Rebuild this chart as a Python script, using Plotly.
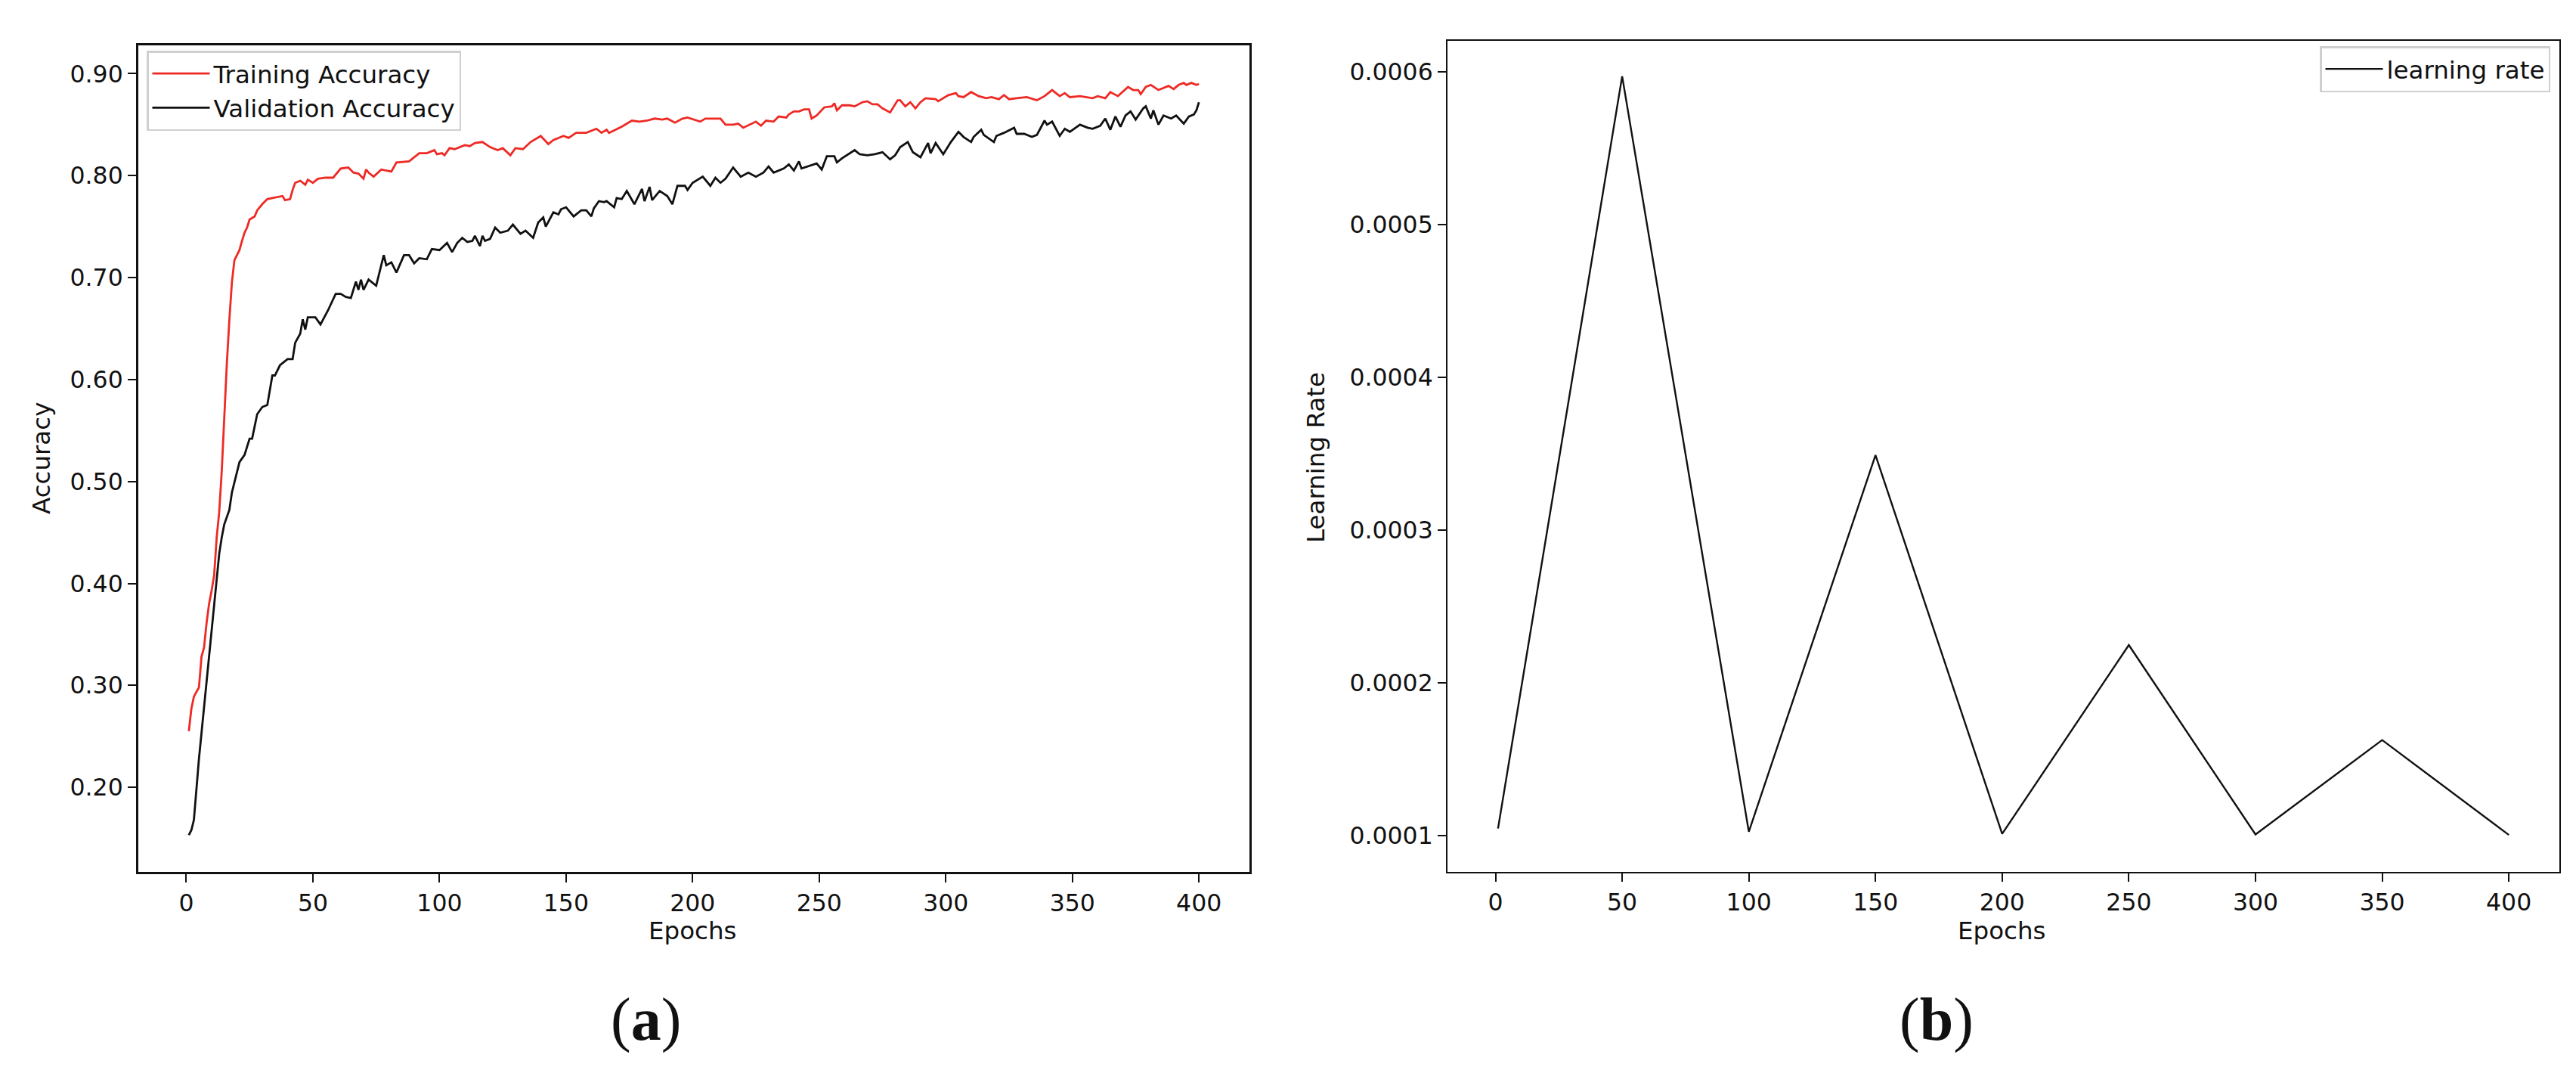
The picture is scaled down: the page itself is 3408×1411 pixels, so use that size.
import plotly.graph_objects as go

W, H = 3408, 1411

# training / validation accuracy (epoch, value)
train_epochs = [1, 2, 3, 5, 6, 7, 8, 9, 10, 11, 12, 13, 14, 15, 16, 17, 18, 19, 21, 22,
                23, 24, 25, 27, 28, 30, 32, 34, 38, 39, 41, 42, 43, 45, 47, 48, 50, 52, 55, 58,
                61, 64, 66, 68, 70, 71, 72, 74, 77, 81, 83, 88, 92, 95, 98, 99, 101, 102, 104, 106,
                108, 110, 112, 114, 117, 119, 120, 123, 125, 128, 130, 133, 136, 140, 143, 145, 149, 151, 154, 158,
                162, 164, 166, 167, 172, 176, 179, 182, 185, 188, 190, 193, 196, 198, 203, 205, 211, 213, 216, 218,
                220, 225, 227, 229, 232, 234, 237, 238, 240, 242, 244, 246, 247, 249, 252, 255, 256, 257, 259, 262,
                264, 267, 269, 271, 273, 275, 278, 281, 282, 284, 286, 288, 290, 292, 296, 297, 301, 304, 305, 307,
                310, 313, 316, 318, 321, 323, 325, 328, 332, 336, 339, 342, 345, 347, 349, 353, 358, 360, 363, 365,
                368, 372, 374, 376, 377, 379, 381, 384, 388, 390, 392, 394, 395, 397, 399, 400]
train_acc = [0.255, 0.277, 0.289, 0.298, 0.328, 0.337, 0.361, 0.380, 0.393, 0.408, 0.445, 0.470, 0.510, 0.565, 0.615, 0.658, 0.695, 0.717, 0.727, 0.736,
             0.744, 0.749, 0.757, 0.760, 0.766, 0.772, 0.777, 0.778, 0.780, 0.776, 0.777, 0.786, 0.793, 0.795, 0.791, 0.796, 0.793, 0.797, 0.798, 0.798,
             0.807, 0.808, 0.803, 0.802, 0.797, 0.806, 0.803, 0.799, 0.806, 0.804, 0.813, 0.814, 0.822, 0.822, 0.825, 0.821, 0.822, 0.820, 0.827, 0.826,
             0.828, 0.830, 0.829, 0.832, 0.833, 0.830, 0.828, 0.825, 0.827, 0.820, 0.827, 0.826, 0.833, 0.839, 0.831, 0.835, 0.839, 0.837, 0.842, 0.842,
             0.846, 0.842, 0.845, 0.842, 0.848, 0.854, 0.853, 0.854, 0.856, 0.855, 0.856, 0.852, 0.856, 0.857, 0.853, 0.856, 0.856, 0.850, 0.850, 0.851,
             0.847, 0.853, 0.849, 0.854, 0.853, 0.858, 0.857, 0.860, 0.863, 0.863, 0.865, 0.865, 0.856, 0.859, 0.867, 0.868, 0.871, 0.864, 0.869, 0.869,
             0.868, 0.872, 0.873, 0.870, 0.870, 0.866, 0.862, 0.874, 0.874, 0.868, 0.872, 0.866, 0.872, 0.876, 0.875, 0.873, 0.879, 0.881, 0.878, 0.877,
             0.882, 0.878, 0.876, 0.877, 0.875, 0.879, 0.875, 0.876, 0.877, 0.874, 0.878, 0.884, 0.878, 0.881, 0.877, 0.878, 0.876, 0.878, 0.876, 0.882,
             0.878, 0.887, 0.884, 0.884, 0.880, 0.887, 0.889, 0.884, 0.888, 0.885, 0.889, 0.891, 0.889, 0.891, 0.889, 0.890]

val_epochs = [1, 2, 3, 4, 5, 6, 7, 8, 9, 10, 11, 12, 13, 14, 15, 16, 17, 18, 20, 21,
              23, 25, 26, 28, 30, 32, 34, 35, 37, 40, 42, 43, 45, 46, 47, 48, 51, 53, 56, 59,
              61, 63, 65, 67, 68, 69, 70, 72, 75, 78, 79, 81, 83, 86, 88, 90, 92, 95, 97, 100,
              103, 105, 107, 109, 111, 113, 114, 116, 117, 118, 120, 122, 124, 127, 129, 132, 134, 137, 139, 141,
              142, 145, 147, 148, 150, 153, 156, 158, 160, 161, 163, 165, 166, 169, 170, 172, 174, 177, 180, 181,
              183, 184, 187, 190, 192, 194, 197, 198, 200, 204, 207, 209, 211, 213, 216, 219, 222, 225, 228, 230,
              232, 236, 238, 240, 242, 243, 249, 251, 253, 256, 257, 259, 264, 266, 269, 272, 275, 278, 280, 282,
              285, 287, 290, 293, 294, 296, 299, 302, 305, 307, 310, 311, 314, 315, 319, 320, 323, 327, 328, 331,
              334, 336, 339, 340, 342, 345, 347, 349, 353, 356, 358, 361, 363, 365, 367, 369, 371, 373, 375, 378,
              379, 381, 382, 384, 386, 389, 391, 394, 396, 398, 399, 400]
val_acc = [0.153, 0.158, 0.168, 0.199, 0.228, 0.253, 0.278, 0.303, 0.328, 0.354, 0.377, 0.400, 0.429, 0.445, 0.458, 0.465, 0.472, 0.489, 0.508, 0.519,
           0.526, 0.542, 0.542, 0.566, 0.573, 0.575, 0.604, 0.604, 0.614, 0.620, 0.620, 0.636, 0.645, 0.659, 0.649, 0.661, 0.661, 0.654, 0.668, 0.684,
           0.684, 0.681, 0.680, 0.696, 0.688, 0.698, 0.688, 0.698, 0.692, 0.722, 0.712, 0.715, 0.705, 0.722, 0.722, 0.714, 0.719, 0.718, 0.728, 0.727,
           0.734, 0.725, 0.734, 0.739, 0.735, 0.736, 0.741, 0.731, 0.741, 0.736, 0.738, 0.749, 0.744, 0.746, 0.752, 0.743, 0.746, 0.739, 0.754, 0.759,
           0.750, 0.764, 0.762, 0.767, 0.769, 0.760, 0.766, 0.766, 0.760, 0.768, 0.775, 0.774, 0.775, 0.769, 0.778, 0.777, 0.785, 0.772, 0.787, 0.775,
           0.789, 0.776, 0.785, 0.780, 0.772, 0.790, 0.790, 0.786, 0.793, 0.799, 0.790, 0.798, 0.793, 0.797, 0.808, 0.799, 0.803, 0.799, 0.803, 0.809,
           0.803, 0.807, 0.811, 0.805, 0.814, 0.807, 0.812, 0.806, 0.819, 0.819, 0.813, 0.817, 0.825, 0.821, 0.820, 0.821, 0.823, 0.816, 0.820, 0.828,
           0.833, 0.823, 0.818, 0.832, 0.822, 0.832, 0.821, 0.833, 0.843, 0.838, 0.833, 0.838, 0.845, 0.840, 0.833, 0.839, 0.842, 0.847, 0.841, 0.841,
           0.838, 0.840, 0.854, 0.850, 0.853, 0.839, 0.846, 0.843, 0.850, 0.847, 0.846, 0.849, 0.856, 0.845, 0.858, 0.848, 0.859, 0.863, 0.855, 0.866,
           0.868, 0.856, 0.864, 0.850, 0.859, 0.856, 0.859, 0.851, 0.858, 0.860, 0.864, 0.872]

# cyclic learning rate, corner points
lr_epochs = [1, 50, 100, 150, 200, 250, 300, 350, 400]
lr_values = [0.0001046, 0.000597, 0.0001025, 0.000349, 0.0001011, 0.0002247, 0.0001007, 0.0001625, 0.0001004]

x_ticks = [0, 50, 100, 150, 200, 250, 300, 350, 400]
acc_ticks = [0.2, 0.3, 0.4, 0.5, 0.6, 0.7, 0.8, 0.9]
lr_ticks = [0.0001, 0.0002, 0.0003, 0.0004, 0.0005, 0.0006]
lr_tick_text = ['0.0001', '0.0002', '0.0003', '0.0004', '0.0005', '0.0006']

FONT = 'DejaVu Sans'
INK = '#111111'
RED = '#ee2a25'


def px(x):
    return x / W


def py(y):
    return 1 - y / H


fig = go.Figure()
fig.add_trace(go.Scatter(x=train_epochs, y=train_acc, mode='lines', name='Training Accuracy',
                         line=dict(color=RED, width=2.8), xaxis='x', yaxis='y', legend='legend'))
fig.add_trace(go.Scatter(x=val_epochs, y=val_acc, mode='lines', name='Validation Accuracy',
                         line=dict(color=INK, width=2.8), xaxis='x', yaxis='y', legend='legend'))
fig.add_trace(go.Scatter(x=lr_epochs, y=lr_values, mode='lines', name='learning rate',
                         line=dict(color=INK, width=2.4), xaxis='x2', yaxis='y2', legend='legend2'))

tick_font = dict(family=FONT, size=31.5, color=INK)
common = dict(showline=True, mirror=True, linecolor=INK, ticks='outside', ticklen=11,
              tickwidth=2, tickcolor=INK, showgrid=False, zeroline=False, tickfont=tick_font)
legend_style = dict(bgcolor='white', bordercolor='#cfcfcf', borderwidth=2.5, itemwidth=76,
                    font=dict(family=FONT, size=32.5, color=INK))

fig.update_layout(
    width=W, height=H,
    margin=dict(l=0, r=0, t=0, b=0),
    paper_bgcolor='white', plot_bgcolor='white',
    font=dict(family=FONT, size=32, color=INK),
    xaxis=dict(domain=[px(175), px(1645)], range=[-18.95, 419.95], tickvals=x_ticks,
               anchor='y', linewidth=3, **common),
    yaxis=dict(domain=[py(1145), py(52)], range=[0.117, 0.9278], tickvals=acc_ticks,
               tickformat='.2f', anchor='x', linewidth=3, **common),
    xaxis2=dict(domain=[px(1907), px(3378)], range=[-18.95, 419.95], tickvals=x_ticks,
                anchor='y2', linewidth=2, **common),
    yaxis2=dict(domain=[py(1145), py(46)], range=[0.0000762, 0.0006202], tickvals=lr_ticks,
                ticktext=lr_tick_text, anchor='x2', linewidth=2, **common),
    legend=dict(x=px(186), y=py(59), xanchor='left', yanchor='top', **legend_style),
    legend2=dict(x=px(3366), y=py(53), xanchor='right', yanchor='top', **legend_style),
)

title_font = dict(family=FONT, size=32.5, color=INK)
annos = [
    dict(text='Accuracy', x=px(47), y=py(598), textangle=-90),
    dict(text='Learning Rate', x=px(1733), y=py(597), textangle=-90),
    dict(text='Epochs', x=px(908), y=py(1223)),
    dict(text='Epochs', x=px(2640), y=py(1223)),
]
for a in annos:
    fig.add_annotation(xref='paper', yref='paper', showarrow=False, xanchor='center',
                       yanchor='middle', font=title_font, **a)

cap_font = dict(family='Liberation Serif', size=80, color=INK)
fig.add_annotation(text='(<b>a</b>)', x=px(846), y=py(1340), xref='paper', yref='paper',
                   showarrow=False, xanchor='center', yanchor='middle', font=cap_font)
fig.add_annotation(text='(<b>b</b>)', x=px(2554), y=py(1340), xref='paper', yref='paper',
                   showarrow=False, xanchor='center', yanchor='middle', font=cap_font)

fig.write_html('out.html')
